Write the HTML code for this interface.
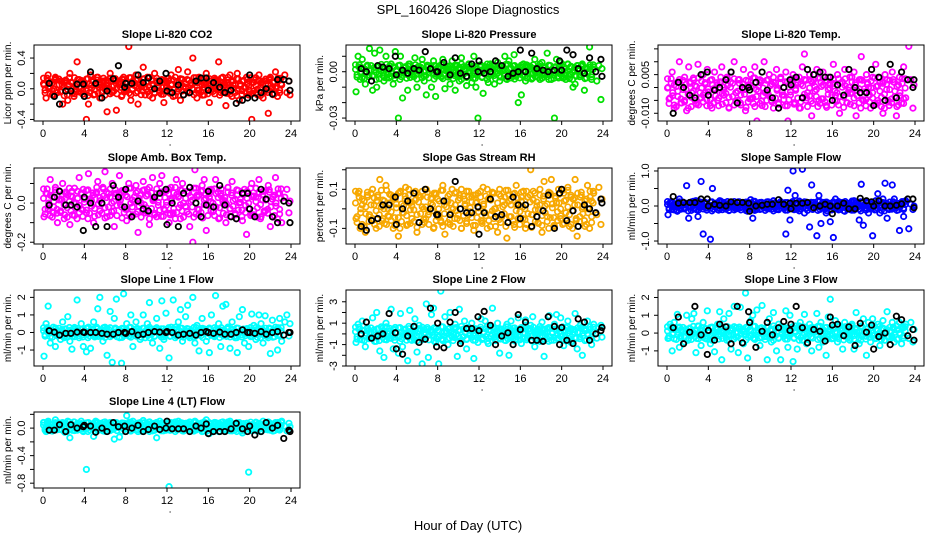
<!DOCTYPE html>
<html><head><meta charset="utf-8">
<style>
html,body{margin:0;padding:0;background:#fff;}
svg{display:block;font-family:"Liberation Sans",Arial,sans-serif;}
</style></head>
<body>
<svg id="chart" width="936" height="540" viewBox="0 0 936 540" xmlns="http://www.w3.org/2000/svg">
<rect width="936" height="540" fill="#fff"/>
<text x="468" y="14" text-anchor="middle" font-size="13">SPL_160426  Slope Diagnostics</text>
<text x="468" y="530" text-anchor="middle" font-size="13">Hour of Day (UTC)</text>
</svg>
<script>
const hoursColored=[0.1,0.3,0.5,0.7,1.0,1.2,1.4,1.7,1.9,2.1,2.4,2.6,2.8,3.0,3.3,3.5,3.7,3.9,4.2,4.4,4.6,4.9,5.1,5.3,5.5,5.8,6.0,6.2,6.5,6.7,6.9,7.1,7.4,7.6,7.8,8.1,8.3,8.5,8.7,9.0,9.2,9.4,9.7,9.9,10.1,10.3,10.6,10.8,11.0,11.3,11.5,11.7,11.9,12.2,12.4,12.6,12.9,13.1,13.3,13.5,13.8,14.0,14.2,14.5,14.7,14.9,15.1,15.4,15.6,15.8,16.1,16.3,16.5,16.7,17.0,17.2,17.4,17.7,17.9,18.1,18.3,18.6,18.8,19.0,19.3,19.5,19.7,19.9,20.2,20.4,20.6,20.9,21.1,21.3,21.5,21.8,22.0,22.2,22.5,22.7,22.9,23.1,23.4,23.6,23.8,23.9];
const hoursBlack=[0.6,1.1,1.6,2.2,2.7,3.3,3.9,4.0,4.6,5.1,5.7,6.2,6.8,7.3,7.9,8.0,8.6,9.2,9.7,10.2,10.8,11.3,11.9,12.0,12.5,13.1,13.6,14.2,14.8,15.3,15.8,16.0,16.5,17.1,17.6,18.2,18.7,19.3,19.8,20.0,20.5,21.1,21.6,22.2,22.7,23.3,23.8,23.9];
const hoursCore=[0.05,0.2,0.4,0.55,0.7,0.9,1.05,1.2,1.35,1.55,1.7,1.85,2.05,2.2,2.35,2.55,2.7,2.85,3.05,3.2,3.35,3.5,3.7,3.85,4.0,4.2,4.35,4.5,4.7,4.85,5.0,5.2,5.35,5.5,5.7,5.85,6.0,6.15,6.35,6.5,6.65,6.85,7.0,7.15,7.35,7.5,7.65,7.85,8.0,8.15,8.35,8.5,8.65,8.85,9.0,9.15,9.3,9.5,9.65,9.8,10.0,10.15,10.3,10.5,10.65,10.8,11.0,11.15,11.3,11.45,11.65,11.8,11.95,12.15,12.3,12.45,12.65,12.8,12.95,13.15,13.3,13.45,13.6,13.8,13.95,14.1,14.3,14.45,14.6,14.8,14.95,15.1,15.3,15.45,15.6,15.75,15.95,16.1,16.25,16.45,16.6,16.75,16.95,17.1,17.25,17.45,17.6,17.75,17.9,18.1,18.25,18.4,18.6,18.75,18.9,19.1,19.25,19.4,19.6,19.75,19.9,20.1,20.25,20.4,20.6,20.75,20.9,21.05,21.25,21.4,21.55,21.75,21.9,22.05,22.25,22.4,22.55,22.75,22.9,23.05,23.25,23.4,23.55,23.75,23.9];
const coreNoise=[0.3,-0.7,0.9,-0.2,0.5,-0.9,0.1,0.7,-0.4,0.8,-0.6,0.2,-1.0,0.6,-0.3,0.95,-0.5,0.4,-0.8,0.0,0.75,-0.15,0.55,-0.85,0.25,-0.45,0.85,-0.65,0.15,0.65,-0.35,1.0,-0.75,0.35,-0.05,0.45,-0.95,0.7,-0.25,0.9,-0.55,0.1,0.6,-0.8,0.3,-0.1,0.8,-0.6,0.5,-0.4,0.95,-0.9,0.2,0.4,-0.7,0.75,-0.2,0.0,-0.5,0.85,-0.3,0.55,-1.0,0.65,0.15,-0.65,0.9,-0.15,0.35,-0.85,0.7,-0.45,0.05,0.6,-0.75,0.25,-0.35,1.0,-0.6,0.45,-0.1,0.8,-0.9,0.3,-0.55,0.65,0.1,-0.25,0.95,-0.7,0.4,-0.4,0.75,-0.95,0.2,0.55,-0.15,0.85,-0.5,0.0,-0.8,0.6,0.35,-0.3,0.9,-0.65,0.15,-0.05,0.7,-0.85,0.5,-0.2,0.25,-1.0,0.8,0.05,-0.45,0.65,-0.6,0.3,-0.35,0.95,-0.75,0.45,0.1,-0.9,0.7,-0.1,0.55,-0.5,0.2,-0.65,0.85,-0.25,0.4,-0.8,0.0,0.6,-0.4,0.9];
const xTicks=[0,4,8,12,16,20,24];
/* dense core band per panel: centre and half-width (data units) */
const bandCenter=[0.03,0.0,-0.002,0.0,0.0,0.0,0.0,0.0,0.0,0.02];
const bandHalf=[0.12,0.005,0.006,0.08,0.1,0.14,0.3,0.7,0.4,0.07];

const co2Colored=[0.05,-0.12,0.18,0.02,-0.08,0.15,-0.05,0.1,-0.2,0.08,-0.15,0.2,0.0,-0.1,0.35,0.12,-0.05,0.08,-0.4,-0.2,0.18,-0.08,0.05,0.15,-0.12,0.1,0.02,-0.3,0.2,-0.05,0.12,-0.28,0.08,-0.1,0.15,0.0,0.55,-0.15,0.1,0.18,-0.2,0.05,0.28,-0.08,0.15,0.02,-0.12,0.2,0.08,-0.05,0.12,-0.18,0.1,0.0,0.18,-0.1,0.05,0.25,-0.15,0.12,0.02,0.22,-0.05,0.4,0.1,-0.12,0.15,0.05,-0.08,0.2,-0.18,0.1,0.0,0.12,0.35,-0.05,0.15,-0.22,0.08,0.18,-0.1,0.05,0.2,-0.15,0.1,0.02,0.15,-0.08,-0.4,0.12,-0.05,0.18,0.08,-0.12,0.1,-0.32,0.15,0.02,0.22,-0.1,0.12,0.05,0.18,-0.05,0.1,-0.08];
const co2Black=[0.07,-0.1,-0.2,-0.03,-0.03,0.06,0.06,-0.1,0.22,0.07,-0.12,-0.03,0.13,0.3,0.02,0.07,0.07,0.18,0.08,0.14,0.0,0.1,0.2,-0.03,-0.05,0.05,-0.08,-0.05,0.1,0.14,0.14,-0.02,0.08,0.02,-0.05,-0.02,-0.19,-0.15,-0.12,0.18,-0.12,-0.05,0.0,-0.07,0.12,0.12,0.1,-0.02];
const presColored=[-0.013,0.01,-0.005,0.008,-0.008,0.004,0.015,-0.012,0.012,-0.01,0.014,0.003,-0.006,0.01,-0.004,0.005,-0.008,0.013,-0.03,0.01,-0.017,0.003,-0.012,0.005,-0.002,0.009,-0.01,0.002,0.008,-0.006,-0.015,0.004,-0.01,0.007,-0.016,0.003,-0.003,0.008,-0.011,0.002,-0.008,0.007,-0.012,0.004,-0.006,0.009,0.002,-0.009,0.005,-0.007,0.01,-0.01,-0.03,0.004,-0.014,0.003,-0.007,0.005,0.002,-0.008,0.006,-0.006,0.003,0.01,-0.005,0.007,-0.004,0.011,-0.003,-0.02,-0.015,0.005,-0.006,0.004,0.002,-0.004,0.008,0.003,-0.005,0.006,-0.002,0.012,0.004,-0.005,-0.03,0.008,-0.004,0.006,0.003,-0.005,0.005,-0.002,-0.01,-0.008,0.004,-0.002,0.005,-0.012,0.002,0.016,-0.005,0.003,-0.006,0.004,-0.018,0.002];
const presBlack=[0.002,0.0,-0.006,0.004,0.003,0.002,0.01,-0.002,0.001,-0.001,0.002,0.001,0.013,0.002,0.0,0.0,0.006,-0.002,0.009,-0.001,-0.003,0.005,0.0,0.007,-0.001,0.0,0.007,0.004,-0.003,-0.001,0.0,0.014,0.0,0.012,0.002,0.001,0.0,0.001,0.007,0.001,0.014,0.011,0.002,-0.001,0.009,0.0,0.008,-0.003];
const liTempColored=[0.0,-0.004,0.006,-0.008,0.002,0.01,-0.006,0.004,-0.009,0.008,-0.002,0.003,-0.006,0.009,-0.004,0.005,-0.002,0.007,-0.007,0.001,0.006,-0.005,0.002,0.008,-0.003,0.004,-0.008,0.006,0.01,-0.002,0.003,-0.006,0.007,-0.009,0.0,0.005,-0.004,0.008,-0.013,0.003,-0.007,0.01,-0.002,0.005,-0.005,0.002,0.007,-0.008,0.004,-0.003,0.006,-0.013,0.002,0.005,-0.006,0.003,-0.008,0.008,0.013,-0.004,0.005,-0.011,0.003,0.007,-0.005,0.002,0.006,-0.007,0.004,0.001,0.009,-0.003,0.005,-0.01,0.002,0.007,-0.006,0.004,-0.002,0.006,-0.011,0.003,0.012,-0.005,0.005,0.0,-0.008,0.004,0.009,-0.006,0.002,-0.01,0.005,0.003,-0.007,0.006,0.002,-0.011,0.004,-0.006,0.008,-0.004,0.016,0.003,-0.008,0.001];
const liTempBlack=[-0.01,0.002,0.0,-0.003,-0.004,0.005,0.006,-0.003,-0.001,0.0,0.003,0.006,-0.006,0.0,0.0,-0.001,0.002,0.006,-0.001,-0.004,-0.008,0.0,0.003,0.001,0.004,-0.004,0.007,0.005,0.006,0.004,0.004,-0.005,0.001,-0.003,0.007,0.0,-0.002,-0.002,0.007,-0.007,0.004,-0.005,0.009,-0.004,0.006,0.003,0.0,0.003];
const ambColored=[-0.07,0.05,-0.03,0.12,-0.05,0.08,-0.1,0.02,0.1,-0.06,0.04,-0.11,0.06,0.0,-0.08,0.13,-0.03,0.07,-0.05,0.15,0.02,-0.1,0.05,0.11,-0.04,0.08,0.16,-0.07,0.03,0.1,-0.12,0.05,0.14,-0.02,0.06,-0.09,0.1,0.0,-0.06,0.09,-0.15,0.04,0.11,-0.05,0.07,-0.11,0.13,0.02,-0.07,0.1,0.14,-0.03,0.06,-0.1,0.08,-0.05,0.12,0.03,-0.08,0.1,-0.02,0.06,-0.12,-0.2,0.17,0.04,-0.06,0.09,0.12,-0.14,0.03,0.07,-0.04,0.12,-0.08,0.05,0.01,-0.1,0.08,-0.03,0.11,-0.06,0.04,0.0,-0.09,0.07,-0.16,0.05,0.1,-0.06,0.03,0.12,-0.07,0.06,-0.04,0.09,-0.12,0.02,0.13,-0.08,0.05,-0.1,0.03,0.07,-0.05,0.01];
const ambBlack=[-0.01,0.03,0.06,-0.01,-0.01,-0.02,-0.14,0.03,0.0,-0.12,0.0,-0.12,0.09,0.03,-0.02,0.07,-0.07,0.01,-0.03,-0.04,0.03,0.05,0.07,-0.11,0.0,-0.12,0.05,0.08,0.0,-0.07,-0.01,0.06,-0.02,0.09,-0.01,-0.07,-0.08,0.05,0.05,-0.03,-0.07,0.07,0.02,-0.07,-0.1,0.01,0.0,-0.1];
const rhColored=[-0.05,0.08,-0.1,0.02,-0.12,0.06,-0.03,0.1,-0.08,0.04,0.15,-0.06,0.0,0.12,-0.04,0.07,-0.1,0.05,-0.14,0.09,-0.02,0.11,-0.08,0.03,-0.05,0.08,-0.12,0.06,0.01,-0.07,0.1,-0.03,0.05,-0.1,0.08,0.0,-0.06,0.12,-0.13,0.04,-0.08,0.1,0.02,-0.05,0.07,-0.1,0.05,0.09,-0.03,0.06,-0.11,0.03,0.08,-0.06,0.11,-0.02,0.05,-0.09,0.08,0.0,-0.12,0.1,-0.04,0.06,-0.15,0.07,0.02,-0.08,0.12,-0.05,0.04,0.09,-0.1,0.06,0.2,-0.03,0.08,-0.07,0.02,-0.12,0.14,-0.04,0.07,0.15,-0.09,0.03,0.1,-0.05,0.08,-0.02,0.11,-0.08,0.05,0.15,-0.14,0.06,0.0,-0.06,0.12,-0.1,0.04,0.08,-0.03,0.11,-0.08,0.05];
const rhBlack=[-0.09,-0.11,-0.06,-0.05,0.02,0.02,0.06,-0.08,0.0,0.04,0.08,-0.07,0.1,0.0,-0.03,-0.03,0.04,-0.03,0.14,0.0,-0.02,-0.02,0.01,-0.13,-0.02,0.05,-0.04,-0.03,-0.07,0.06,0.02,-0.05,0.02,-0.09,-0.04,-0.01,0.07,-0.1,0.08,0.1,-0.06,-0.01,-0.09,0.02,0.0,-0.02,0.05,0.03];
const sampleColored=[-0.25,0.1,-0.1,0.05,-0.15,0.2,0.0,-0.05,0.58,-0.35,0.12,-0.08,0.15,-0.3,0.7,-0.8,0.1,-0.05,-0.95,0.5,0.0,-0.1,0.15,-0.05,0.1,0.05,-0.12,0.08,0.0,-0.08,0.12,-0.05,0.1,0.02,-0.15,0.18,-0.35,0.05,-0.1,0.1,0.0,-0.05,0.12,-0.08,0.05,0.15,-0.1,0.02,0.08,-0.05,-0.8,0.45,-0.4,1.0,0.3,-0.1,0.1,1.05,-0.2,0.05,-0.6,0.6,0.1,-0.85,0.3,-0.5,0.1,-0.2,0.05,-0.45,-0.9,0.2,0.05,-0.1,0.1,-0.15,0.08,0.0,-0.12,0.15,-0.05,-0.4,0.62,-0.55,0.1,-0.2,0.05,-0.85,0.15,0.35,-0.2,0.2,0.65,-0.35,-0.1,0.6,0.2,-0.05,-0.7,0.1,-0.3,0.15,-0.65,0.05,-0.1,0.0];
const sampleBlack=[0.27,0.08,0.1,0.1,0.1,0.2,0.2,0.0,0.05,0.02,0.0,0.12,0.1,0.1,0.08,-0.15,0.0,0.02,0.05,0.05,0.18,0.05,0.08,-0.08,0.08,0.08,0.1,-0.05,0.0,0.05,0.0,-0.22,0.0,0.08,-0.08,-0.08,0.22,0.15,0.12,0.0,0.15,0.0,0.0,0.02,0.06,0.2,0.2,-0.05];
const line1Colored=[-1.35,0.5,1.5,-0.6,0.3,-0.8,0.1,-0.4,0.6,-0.2,0.9,-0.5,-0.95,0.2,1.85,-0.3,0.5,-0.8,-1.1,0.3,-0.9,0.6,-0.2,1.35,2.0,-0.5,0.3,-1.3,1.2,-1.7,0.8,1.9,-0.3,-1.75,2.2,0.5,-0.2,1.0,-0.8,0.6,0.2,-0.4,1.0,-0.3,0.5,1.7,-0.6,0.2,0.8,-0.9,1.8,-0.4,1.1,-1.45,0.3,1.85,-0.2,0.6,1.3,-0.5,0.9,1.55,-0.3,2.0,-0.6,0.4,-1.05,0.8,0.2,-0.5,-1.15,1.0,-0.2,2.1,0.5,-0.8,1.5,1.6,0.3,-0.9,0.6,-0.3,-1.15,0.9,1.3,-0.6,0.2,-0.8,1.05,0.4,-0.4,1.0,0.5,-0.6,0.95,-0.3,-1.2,0.7,0.3,-1.0,0.8,-0.5,0.6,1.0,-0.2,0.5,0.8];
const line1Black=[0.1,0.02,-0.15,-0.05,-0.05,0.02,0.02,0.0,0.0,0.0,-0.05,-0.1,-0.1,0.0,0.0,-0.05,0.05,-0.15,-0.1,0.0,0.05,0.02,0.0,0.05,0.0,-0.15,-0.1,-0.05,-0.15,0.0,0.05,0.0,-0.05,0.02,-0.1,-0.1,0.0,0.15,0.0,0.0,-0.05,0.05,-0.1,0.0,0.05,-0.15,0.0,0.0];
const line2Colored=[-0.8,0.9,-0.5,1.2,-1.2,0.3,-0.3,1.5,-0.7,2.0,-1.6,0.5,-2.2,1.0,-0.4,2.3,-1.4,0.6,-1.8,1.9,-1.2,0.4,-2.5,2.2,-0.6,1.4,-1.7,0.8,-2.8,0.4,2.8,-2.2,1.8,2.4,-0.8,-2.8,4.0,-0.5,1.6,-1.0,2.0,-0.3,0.9,-2.1,2.3,-0.6,1.2,-1.4,0.5,1.0,-2.3,0.3,-0.8,1.4,-0.4,1.2,-0.9,0.7,2.4,-0.3,1.0,-1.8,0.4,-0.6,0.9,-2.0,1.2,0.3,-0.5,1.5,-0.9,0.6,1.3,-0.4,0.8,1.6,-1.2,0.4,-0.7,1.1,-2.1,0.5,1.7,-0.6,0.9,1.8,-0.4,1.5,-1.1,0.6,1.2,-0.8,0.4,1.9,-1.4,0.8,-2.0,0.5,1.2,-0.6,-1.0,0.9,-0.4,0.6,0.8,-0.3];
const line2Black=[0.0,1.1,-0.4,-0.2,0.0,1.9,0.1,-1.4,-1.9,-0.2,0.7,-0.8,-0.5,2.4,-1.2,1.0,-1.3,1.1,2.0,-0.9,0.5,0.5,1.6,0.3,2.1,0.8,-1.0,-0.2,0.1,-1.0,1.8,0.4,1.1,-0.6,-0.6,-0.7,1.6,0.7,-1.0,0.6,-0.6,-0.9,1.4,1.1,-0.6,0.0,0.3,0.6];
const line3Colored=[-0.3,0.5,-1.0,0.6,1.05,-0.8,0.2,-0.5,1.0,-0.3,0.8,1.1,-1.1,0.4,-0.7,0.6,-0.3,1.25,-0.6,0.3,-1.05,0.5,1.2,-1.5,0.8,-0.4,1.1,-0.9,1.5,0.3,-1.1,1.45,-0.6,2.25,-1.4,0.7,1.0,-0.3,1.3,-0.7,1.55,-0.2,-1.5,0.8,-0.5,1.15,-1.0,0.5,-1.5,0.3,1.25,-0.8,1.0,-1.6,0.4,-0.9,0.6,-0.4,1.05,-0.6,0.5,-1.0,0.3,1.1,-0.8,0.6,-0.5,-1.25,0.9,1.9,-0.3,0.7,-0.5,0.4,-0.9,0.6,0.2,-0.4,0.5,-0.9,1.15,-0.6,0.4,0.8,-1.25,0.6,-0.5,0.8,-0.3,0.5,-0.7,0.7,-0.4,1.2,-0.2,0.6,-0.5,0.4,0.6,-0.6,0.3,0.5,-0.3,0.6,-0.5,0.2];
const line3Black=[0.3,0.9,-0.6,0.05,1.5,-0.1,-1.2,0.15,-0.4,0.5,0.35,-0.6,1.5,-0.55,1.2,0.6,-0.8,0.1,0.6,-0.1,0.3,0.65,0.15,0.5,1.5,0.3,-0.55,0.2,0.1,-0.45,0.9,0.45,0.5,-0.15,0.35,-0.7,0.55,0.05,0.45,-0.9,-0.2,0.0,-0.65,0.95,0.75,-0.15,0.2,-0.4];
const line4Colored=[0.08,-0.05,0.1,0.02,-0.03,0.12,0.05,-0.02,0.08,-0.06,0.1,-0.14,0.04,0.09,-0.03,0.06,0.1,-0.05,-0.6,0.08,0.03,-0.12,0.1,0.0,0.07,-0.04,0.09,0.02,0.05,-0.02,-0.16,0.08,-0.13,0.04,0.0,0.18,0.06,-0.03,0.1,0.02,-0.05,0.08,0.11,-0.02,0.05,0.09,-0.04,0.07,-0.14,0.1,0.02,0.06,-0.03,-0.85,0.08,0.04,-0.02,0.1,0.05,-0.04,0.07,0.0,0.09,-0.03,0.1,0.05,0.02,-0.05,0.09,0.12,-0.08,0.06,0.0,0.08,-0.05,0.04,0.09,-0.02,0.06,0.1,-0.04,0.05,0.02,0.08,-0.07,0.03,0.07,-0.64,0.05,-0.03,0.08,0.02,-0.05,0.1,0.04,0.09,-0.03,0.06,0.08,-0.02,0.05,0.1,0.03,-0.04,0.07,0.02];
const line4Black=[-0.03,-0.03,0.05,-0.05,0.05,0.0,0.02,0.04,0.03,-0.06,0.0,-0.05,0.08,0.02,0.03,-0.05,0.0,0.04,-0.05,-0.02,0.03,-0.02,0.0,0.1,-0.01,-0.01,-0.01,-0.05,0.03,0.0,0.06,-0.08,-0.05,-0.05,-0.05,-0.01,0.07,-0.01,-0.05,0.03,-0.1,-0.05,0.08,0.0,0.04,-0.15,-0.03,-0.05];

const co2Ticks=[-0.4,-0.2,0,0.2,0.4], co2Labels=["-0.4","","0.0","","0.4"];
const presTicks=[-0.03,-0.02,-0.01,0,0.01], presLabels=["-0.03","","","0.00",""];
const liTempTicks=[-0.01,-0.005,0,0.005,0.01,0.015], liTempLabels=["-0.010","","","0.005","",""];
const ambTicks=[-0.2,-0.1,0,0.1], ambLabels=["-0.2","","0.0",""];
const rhTicks=[-0.1,0,0.1,0.2], rhLabels=["-0.1","","0.1",""];
const sampleTicks=[-1,-0.5,0,0.5,1], sampleLabels=["-1.0","","0.0","","1.0"];
const line1Ticks=[-1,0,1,2], line1Labels=["-1","0","1","2"];
const line2Ticks=[-3,-2,-1,0,1,2,3], line2Labels=["-3","","-1","","1","","3"];
const line3Ticks=[-1,0,1,2], line3Labels=["-1","0","1","2"];
const line4Ticks=[-0.8,-0.6,-0.4,-0.2,0,0.2], line4Labels=["-0.8","","-0.4","","0.0",""];

const panels=[
 {name:"co2",title:"Slope Li-820 CO2",ylab:"Licor ppm per min.",col:0,row:0,ymin:-0.42,ymax:0.57,color:"#ff0000",c:co2Colored,k:co2Black,t:co2Ticks,l:co2Labels},
 {name:"pressure",title:"Slope Li-820 Pressure",ylab:"kPa per min.",col:1,row:0,ymin:-0.0319,ymax:0.0173,color:"#00e000",c:presColored,k:presBlack,t:presTicks,l:presLabels},
 {name:"li820-temp",title:"Slope Li-820 Temp.",ylab:"degrees C per min.",col:2,row:0,ymin:-0.013,ymax:0.0165,color:"#ff00ff",c:liTempColored,k:liTempBlack,t:liTempTicks,l:liTempLabels},
 {name:"amb-box-temp",title:"Slope Amb. Box Temp.",ylab:"degrees C per min.",col:0,row:1,ymin:-0.209,ymax:0.179,color:"#ff00ff",c:ambColored,k:ambBlack,t:ambTicks,l:ambLabels},
 {name:"gas-stream-rh",title:"Slope Gas Stream RH",ylab:"percent per min.",col:1,row:1,ymin:-0.18,ymax:0.209,color:"#f7a800",c:rhColored,k:rhBlack,t:rhTicks,l:rhLabels},
 {name:"sample-flow",title:"Slope Sample Flow",ylab:"ml/min per min.",col:2,row:1,ymin:-1.085,ymax:1.085,color:"#0000ff",c:sampleColored,k:sampleBlack,t:sampleTicks,l:sampleLabels},
 {name:"line1-flow",title:"Slope Line 1 Flow",ylab:"ml/min per min.",col:0,row:2,ymin:-1.91,ymax:2.42,color:"#00ffff",c:line1Colored,k:line1Black,t:line1Ticks,l:line1Labels},
 {name:"line2-flow",title:"Slope Line 2 Flow",ylab:"ml/min per min.",col:1,row:2,ymin:-3.0,ymax:4.1,color:"#00ffff",c:line2Colored,k:line2Black,t:line2Ticks,l:line2Labels},
 {name:"line3-flow",title:"Slope Line 3 Flow",ylab:"ml/min per min.",col:2,row:2,ymin:-1.85,ymax:2.42,color:"#00ffff",c:line3Colored,k:line3Black,t:line3Ticks,l:line3Labels},
 {name:"line4-flow",title:"Slope Line 4 (LT) Flow",ylab:"ml/min per min.",col:0,row:3,ymin:-0.87,ymax:0.234,color:"#00ffff",c:line4Colored,k:line4Black,t:line4Ticks,l:line4Labels}
];
const colLeft=[34,346,658], rowTop=[45,168,290,412], BW=266, BH=76;
const NS="http://www.w3.org/2000/svg";
const svg=document.getElementById("chart");
function mk(tag,attrs,parent){const e=document.createElementNS(NS,tag);for(const a in attrs)e.setAttribute(a,attrs[a]);(parent||svg).appendChild(e);return e;}

panels.forEach((p,pi)=>{
  const L=colLeft[p.col], T=rowTop[p.row], B=T+BH, R=L+BW;
  const g=mk("g",{});
  
  
  const xs=h=>L+9+h/24*248;
  const ys=v=>B-(v-p.ymin)/(p.ymax-p.ymin)*BH;
  const cl=mk("clipPath",{id:"clip-"+p.name},g);
  mk("rect",{x:L,y:T,width:BW,height:BH},cl);
  const tt=mk("text",{x:L+BW/2,y:T-7,"text-anchor":"middle","font-size":"11","font-weight":"bold"},g);
  tt.textContent=p.title;
  
  
  const pts=mk("g",{"clip-path":"url(#clip-"+p.name+")",fill:"none"},g);
  
  
  const nc=Math.min(hoursCore.length,coreNoise.length);
  for(let pass=0;pass<2;pass++){
    for(let i=0;i<nc;i++){
      const nv=pass===0?coreNoise[i]:coreNoise[nc-1-i];
      const c=mk("circle",{cx:xs(hoursCore[i]),cy:ys(bandCenter[pi]+bandHalf[pi]*nv),r:2.7,stroke:p.color,"stroke-width":1.7},pts);
      
      
    }
  }
  const n=Math.min(hoursColored.length,p.c.length);
  for(let i=0;i<n;i++){
    const c=mk("circle",{cx:xs(hoursColored[i]),cy:ys(p.c[i]),r:2.7,stroke:p.color,"stroke-width":1.8},pts);
    
    
  }
  const m=Math.min(hoursBlack.length,p.k.length);
  for(let i=0;i<m;i++){
    const c=mk("circle",{cx:xs(hoursBlack[i]),cy:ys(p.k[i]),r:2.7,stroke:"#000","stroke-width":1.8},pts);
    
    
  }
  const box=mk("rect",{x:L,y:T,width:BW,height:BH,fill:"none",stroke:"#000","stroke-width":1},g);
  
  
  const xa=mk("g",{},g);
  
  
  xTicks.forEach(t=>{
    mk("line",{x1:xs(t),x2:xs(t),y1:B,y2:B+4,stroke:"#000"},xa);
    const tx=mk("text",{x:xs(t),y:B+16,"text-anchor":"middle","font-size":"11"},xa);
    tx.textContent=String(t);
    
    
  });
  mk("circle",{cx:xs(12.3),cy:B+24,r:0.6,fill:"#000"},xa);
  const ya=mk("g",{},g);
  
  
  p.t.forEach((t,i)=>{
    const y=ys(t);
    mk("line",{x1:L-4,x2:L,y1:y,y2:y,stroke:"#000"},ya);
    if(p.l[i]){
      const tx=mk("text",{x:L-9,y:y,"text-anchor":"middle","font-size":"11",transform:"rotate(-90 "+(L-9)+" "+y+")"},ya);
      tx.textContent=p.l[i];
      
      
    }
  });
  const yl=mk("text",{x:L-23,y:T+BH/2,"text-anchor":"middle","font-size":"10",transform:"rotate(-90 "+(L-23)+" "+(T+BH/2)+")"},g);
  yl.textContent=p.ylab;
  
  
});
</script>
</body></html>
